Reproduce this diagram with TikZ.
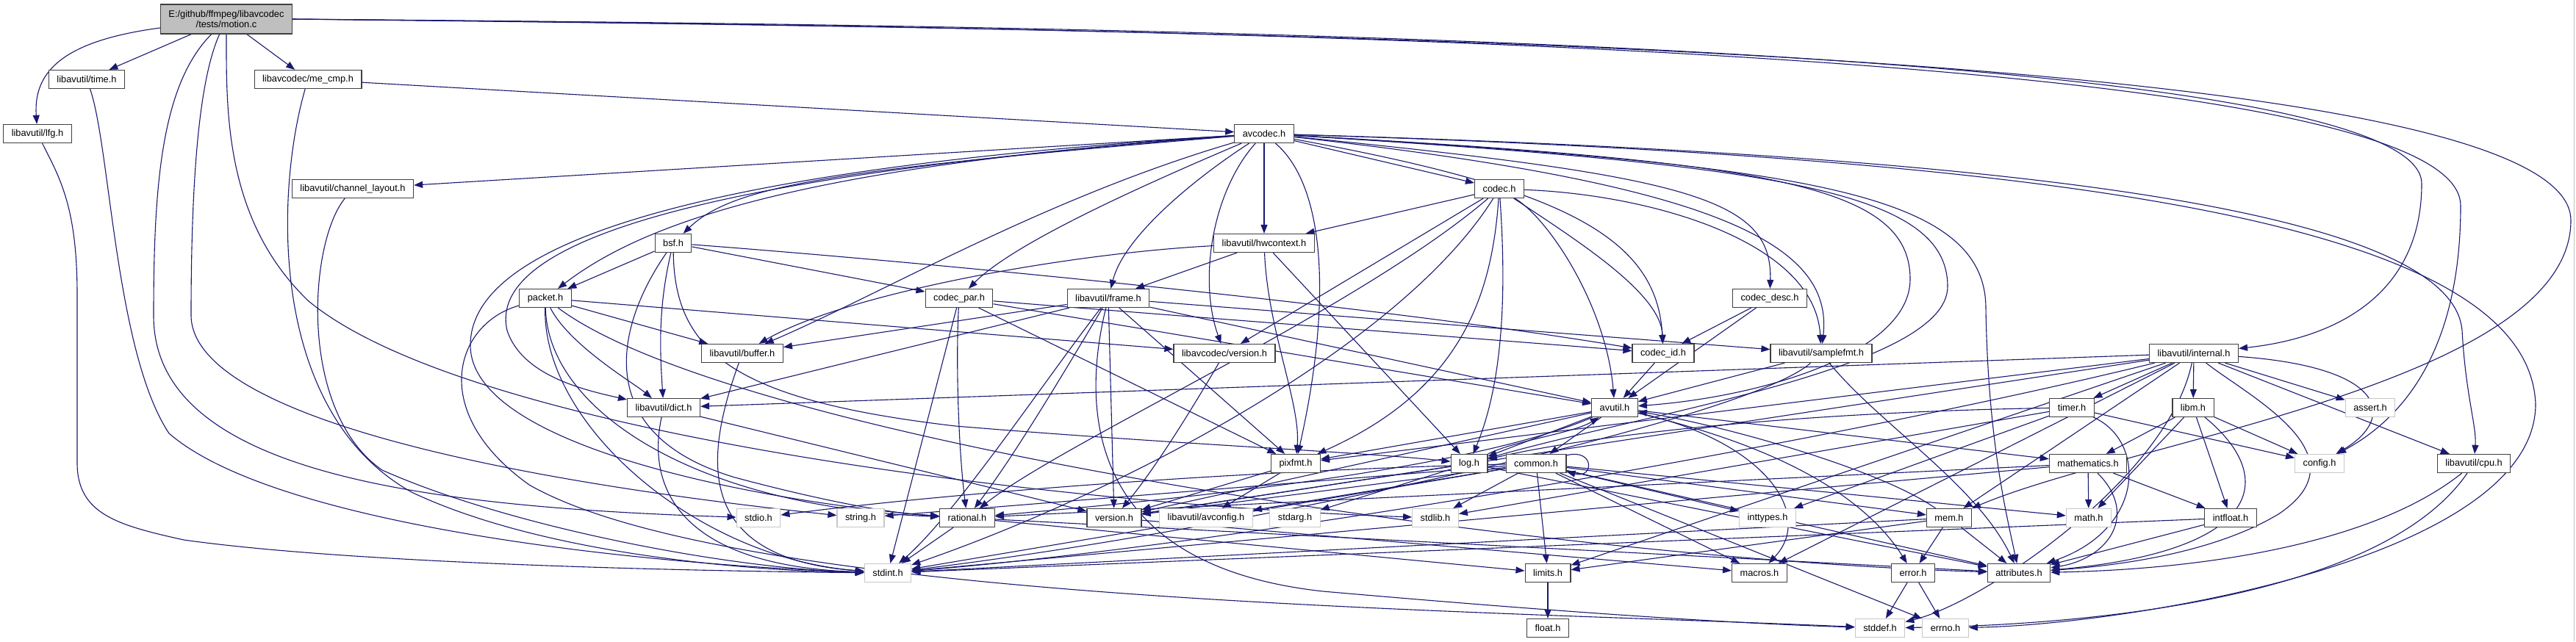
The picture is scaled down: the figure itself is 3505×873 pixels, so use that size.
\documentclass[tikz,border=0pt]{standalone}
\usepackage{fontspec}
\setmainfont{Liberation Sans}
\usetikzlibrary{arrows.meta}
\definecolor{edgeblue}{HTML}{191970}
\newcommand\hdrfont{\fontsize{12.8}{14}\selectfont}
\pgfdeclarelayer{bg}
\pgfsetlayers{bg,main}
\tikzset{
  hdr/.style={draw=black!75, fill=white, line width=1.2pt, minimum height=25pt, inner xsep=11pt, inner ysep=2pt, font=\hdrfont},
  sysh/.style={hdr, draw=black!22},
  srcfile/.style={hdr, fill=black!25, align=center, minimum height=40pt},
  dep/.style={edgeblue, line width=1.1pt, -{Triangle[length=12pt,width=9pt]}}
}
\begin{document}
\begin{tikzpicture}[x=1pt,y=-1pt]
\useasboundingbox (0,0) rectangle (3505,873);

\node[srcfile] (motion) at (308,26) {E:/github/ffmpeg/libavcodec\\/tests/motion.c};
\node[hdr] (timeh) at (118,108) {libavutil/time.h};
\node[hdr] (mecmp) at (419,108) {libavcodec/me\_cmp.h};
\node[hdr] (lfg) at (51,182) {libavutil/lfg.h};
\node[hdr] (avcodec) at (1720,182) {avcodec.h};
\node[hdr] (chlayout) at (480,257) {libavutil/channel\_layout.h};
\node[hdr] (codec) at (2040,257) {codec.h};
\node[hdr] (bsf) at (916,331) {bsf.h};
\node[hdr] (hwctx) at (1720,331) {libavutil/hwcontext.h};
\node[hdr] (packet) at (742,406) {packet.h};
\node[hdr] (codecpar) at (1305,406) {codec\_par.h};
\node[hdr] (frame) at (1508,406) {libavutil/frame.h};
\node[hdr] (codecdesc) at (2408,406) {codec\_desc.h};
\node[hdr] (buffer) at (1010,481) {libavutil/buffer.h};
\node[hdr] (lavcver) at (1666,481) {libavcodec/version.h};
\node[hdr] (codecid) at (2263,481) {codec\_id.h};
\node[hdr] (samplefmt) at (2478,481) {libavutil/samplefmt.h};
\node[hdr] (internal) at (2985,481) {libavutil/internal.h};
\node[hdr] (dict) at (903,555) {libavutil/dict.h};
\node[hdr] (avutil) at (2197,555) {avutil.h};
\node[hdr] (timer) at (2819,555) {timer.h};
\node[hdr] (libm) at (2984,555) {libm.h};
\node[sysh] (assert) at (3225,555) {assert.h};
\node[hdr] (pixfmt) at (1763,631) {pixfmt.h};
\node[hdr] (logh) at (1999,631) {log.h};
\node[hdr] (common) at (2090,631) {common.h};
\node[hdr] (mathematics) at (2841,631) {mathematics.h};
\node[sysh] (config) at (3156,631) {config.h};
\node[hdr] (cpu) at (3366,631) {libavutil/cpu.h};
\node[sysh] (stdio) at (1032,705) {stdio.h};
\node[sysh] (string) at (1171,705) {string.h};
\node[hdr] (rational) at (1316,705) {rational.h};
\node[hdr] (version) at (1516,705) {version.h};
\node[sysh] (avconfig) at (1641,705) {libavutil/avconfig.h};
\node[sysh] (stdarg) at (1762,705) {stdarg.h};
\node[sysh] (stdlib) at (1953,705) {stdlib.h};
\node[sysh] (inttypes) at (2405,705) {inttypes.h};
\node[hdr] (mem) at (2652,705) {mem.h};
\node[sysh] (math) at (2842,705) {math.h};
\node[hdr] (intfloat) at (3035,705) {intfloat.h};
\node[sysh] (stdint) at (1208,780) {stdint.h};
\node[hdr] (limits) at (2106,780) {limits.h};
\node[hdr] (macros) at (2394,780) {macros.h};
\node[hdr] (error) at (2603,780) {error.h};
\node[hdr] (attributes) at (2747,780) {attributes.h};
\node[hdr] (float) at (2106,855) {float.h};
\node[sysh] (stddef) at (2558,855) {stddef.h};
\node[sysh] (errno) at (2647,855) {errno.h};

\begin{pgfonlayer}{bg}
\fill[white] (0,0) rectangle (3505,873);
\draw[black!25, line width=1pt] (3502,0) -- (3502,873);

\draw[dep] (motion) .. controls (90,55) and (45,95) .. (lfg);
\draw[dep] (motion) -- (timeh);
\draw[dep] (motion) -- (mecmp);
\draw[dep] (motion) .. controls (220,115) and (209,250) .. (209,430) .. controls (209,640) and (560,690) .. (stdio);
\draw[dep] (motion) .. controls (270,110) and (260,250) .. (260,430) .. controls (262,560) and (650,650) .. (string);
\draw[dep] (motion) .. controls (308,150) and (305,300) .. (420,410) .. controls (650,600) and (1500,690) .. (stdlib);
\draw[dep] (motion.east) .. controls (1500,35) and (3295,55) .. (3295,250) .. controls (3295,400) and (3180,460) .. (internal);
\draw[dep] (motion.east) .. controls (1600,38) and (3348,60) .. (3348,280) .. controls (3348,500) and (3250,580) .. (config);
\draw[dep] (motion.east) .. controls (1700,41) and (3498,60) .. (3498,300) .. controls (3498,520) and (2900,600) .. (mem);

\draw[dep] (mecmp) -- (avcodec);
\draw[dep] (mecmp) .. controls (375,260) and (364,560) .. (560,670) .. controls (750,760) and (1050,778) .. (stdint);
\draw[dep] (timeh) .. controls (150,200) and (157,480) .. (230,590) .. controls (380,720) and (900,770) .. (stdint);
\draw[dep] (lfg) .. controls (80,240) and (105,280) .. (105,400) -- (105,630) .. controls (105,700) and (160,715) .. (250,735) .. controls (500,770) and (1000,778) .. (stdint);
\draw[dep] (chlayout) .. controls (420,330) and (405,560) .. (520,640) .. controls (700,720) and (1000,775) .. (stdint);

\draw[dep] (avcodec) -- (chlayout);
\draw[dep] (avcodec) .. controls (1100,225) and (880,300) .. (packet);
\draw[dep] (avcodec) .. controls (1150,230) and (1000,250) .. (bsf);
\draw[dep] (avcodec) .. controls (1000,235) and (660,320) .. (690,450) .. controls (710,510) and (790,530) .. (dict);
\draw[dep] (avcodec) .. controls (950,230) and (640,330) .. (640,470) .. controls (640,620) and (1100,690) .. (rational);
\draw[dep] (avcodec) .. controls (1420,270) and (1200,400) .. (buffer);
\draw[dep] (avcodec) .. controls (1560,250) and (1380,330) .. (codecpar);
\draw[dep] (avcodec) .. controls (1630,240) and (1530,320) .. (frame);
\draw[dep] (avcodec) -- (hwctx);
\draw[dep] (avcodec) .. controls (1650,260) and (1630,380) .. (lavcver);
\draw[dep] (avcodec) .. controls (1800,250) and (1815,400) .. (pixfmt);
\draw[dep] (avcodec) -- (codec);
\draw[dep] (avcodec) .. controls (2120,255) and (2255,320) .. (codecid);
\draw[dep] (avcodec) .. controls (2300,240) and (2412,270) .. (codecdesc);
\draw[dep] (avcodec) .. controls (2330,250) and (2495,330) .. (samplefmt);
\draw[dep] (avcodec) .. controls (2400,220) and (2599,250) .. (2599,380) .. controls (2599,480) and (2400,540) .. (avutil);
\draw[dep] (avcodec) .. controls (2420,225) and (2650,260) .. (2650,390) .. controls (2650,500) and (2250,560) .. (logh);
\draw[dep] (avcodec) .. controls (2450,225) and (2702,260) .. (2702,420) .. controls (2705,600) and (2730,700) .. (attributes);
\draw[dep] (avcodec) .. controls (2700,210) and (3336,280) .. (3350,450) .. controls (3355,540) and (3370,580) .. (cpu);
\draw[dep] (avcodec) .. controls (2800,215) and (3440,300) .. (3450,550) .. controls (3450,760) and (2900,850) .. (errno);

\draw[dep] (bsf) -- (packet);
\draw[dep] (bsf) -- (codecpar);
\draw[dep] (bsf) .. controls (1300,360) and (1900,420) .. (codecid);
\draw[dep] (bsf) .. controls (895,420) and (898,480) .. (dict);
\draw[dep] (bsf) .. controls (918,480) and (1000,545) .. (1300,580) .. controls (1600,605) and (1850,615) .. (logh);
\draw[dep] (bsf) .. controls (840,440) and (800,590) .. (1000,650) .. controls (1150,690) and (1230,700) .. (rational);

\draw[dep] (packet) -- (buffer);
\draw[dep] (packet) .. controls (775,470) and (860,520) .. (dict);
\draw[dep] (packet) -- (lavcver);
\draw[dep] (packet) .. controls (745,560) and (950,690) .. (rational);
\draw[dep] (packet) .. controls (738,580) and (950,760) .. (stdint);
\draw[dep] (packet) .. controls (620,440) and (580,560) .. (720,660) .. controls (1000,820) and (2000,830) .. (stddef);
\draw[dep] (packet) .. controls (1000,600) and (2100,760) .. (attributes);

\draw[dep] (codecpar) -- (stdint);
\draw[dep] (codecpar) .. controls (1300,500) and (1305,620) .. (rational);
\draw[dep] (codecpar) -- (avutil);
\draw[dep] (codecpar) -- (pixfmt);
\draw[dep] (codecpar) .. controls (1600,430) and (2000,460) .. (codecid);

\draw[dep] (frame) -- (buffer);
\draw[dep] (frame) -- (dict);
\draw[dep] (frame) .. controls (1440,520) and (1380,620) .. (rational);
\draw[dep] (frame) .. controls (1420,520) and (1300,700) .. (stdint);
\draw[dep] (frame) .. controls (1470,560) and (1480,770) .. (1800,805) .. controls (2200,840) and (2400,850) .. (stddef);
\draw[dep] (frame) -- (samplefmt);
\draw[dep] (frame) -- (pixfmt);
\draw[dep] (frame) -- (version);
\draw[dep] (frame) -- (avutil);

\draw[dep] (hwctx) -- (frame);
\draw[dep] (hwctx) .. controls (1450,345) and (1150,400) .. (buffer);
\draw[dep] (hwctx) .. controls (1725,450) and (1770,550) .. (pixfmt);
\draw[dep] (hwctx) -- (logh);

\draw[dep] (codec) -- (hwctx);
\draw[dep] (codec) -- (lavcver);
\draw[dep] (codec) .. controls (1850,420) and (1450,600) .. (rational);
\draw[dep] (codec) .. controls (2030,400) and (1990,530) .. (pixfmt);
\draw[dep] (codec) .. controls (2050,400) and (2045,520) .. (logh);
\draw[dep] (codec) .. controls (2110,300) and (2186,420) .. (avutil);
\draw[dep] (codec) .. controls (2250,265) and (2470,330) .. (samplefmt);
\draw[dep] (codec) .. controls (2150,330) and (2260,400) .. (codecid);
\draw[dep] (codec) .. controls (1900,480) and (1500,680) .. (stdint);

\draw[dep] (codecdesc) -- (codecid);
\draw[dep] (codecdesc) -- (avutil);
\draw[dep] (codecid) -- (avutil);
\draw[dep] (lavcver) .. controls (1620,560) and (1570,640) .. (version);

\draw[dep] (samplefmt) -- (avutil);
\draw[dep] (samplefmt) .. controls (2380,570) and (1700,720) .. (stdint);
\draw[dep] (samplefmt) .. controls (2560,580) and (2690,660) .. (attributes);

\draw[dep] (internal) -- (libm);
\draw[dep] (internal) -- (assert);
\draw[dep] (internal) .. controls (3250,500) and (3260,570) .. (config);
\draw[dep] (internal) -- (cpu);
\draw[dep] (internal) -- (timer);
\draw[dep] (internal) -- (dict);
\draw[dep] (internal) -- (mem);
\draw[dep] (internal) .. controls (3060,540) and (3220,620) .. (3100,700) .. controls (3000,760) and (2850,772) .. (attributes);
\draw[dep] (internal) -- (macros);
\draw[dep] (internal) -- (version);
\draw[dep] (internal) -- (pixfmt);
\draw[dep] (internal) -- (limits);
\draw[dep] (internal) .. controls (2500,600) and (1700,740) .. (stdint);
\draw[dep] (internal) .. controls (2950,650) and (2700,820) .. (stddef);

\draw[dep] (timer) -- (config);
\draw[dep] (timer) .. controls (2500,560) and (2200,585) .. (logh);
\draw[dep] (timer) -- (stdlib);
\draw[dep] (timer) -- (inttypes);
\draw[dep] (timer) .. controls (2920,600) and (2920,720) .. (attributes);

\draw[dep] (libm) -- (config);
\draw[dep] (libm) -- (intfloat);
\draw[dep] (libm) -- (mathematics);
\draw[dep] (libm) -- (math);
\draw[dep] (libm) .. controls (3100,650) and (3080,750) .. (attributes);

\draw[dep] (mathematics) -- (math);
\draw[dep] (mathematics) -- (rational);
\draw[dep] (mathematics) -- (stdint);
\draw[dep] (mathematics) -- (intfloat);
\draw[dep] (mathematics) .. controls (2910,700) and (2870,760) .. (attributes);

\draw[dep] (mem) -- (error);
\draw[dep] (mem) -- (attributes);
\draw[dep] (mem) -- (limits);
\draw[dep] (mem) -- (stdint);
\draw[dep] (mem) .. controls (2560,640) and (2350,580) .. (avutil);
\draw[dep] (error) -- (stddef);
\draw[dep] (error) -- (errno);

\draw[dep] (common.15) .. controls +(38,-10) and +(38,10) .. (common.-15);
\draw[dep] (common) -- (limits);
\draw[dep] (common) -- (stdlib);
\draw[dep] (common) -- (inttypes);
\draw[dep] (common) -- (math);
\draw[dep] (common) -- (macros);
\draw[dep] (common) -- (mem);
\draw[dep] (common) -- (errno);
\draw[dep] (common) -- (attributes);
\draw[dep] (common) -- (version);
\draw[dep] (common) -- (stdint);
\draw[dep] (common) .. controls (1700,640) and (1300,670) .. (stdio);
\draw[dep] (common) -- (string);
\draw[dep] (common) -- (avconfig);

\draw[dep] (avutil) -- (common);
\draw[dep] (avutil) -- (logh);
\draw[dep] (avutil) -- (pixfmt);
\draw[dep] (avutil) .. controls (2000,640) and (1600,680) .. (rational);
\draw[dep] (avutil) -- (version);
\draw[dep] (avutil) .. controls (2400,600) and (2470,700) .. (macros);
\draw[dep] (avutil) .. controls (2430,610) and (2540,680) .. (error);
\draw[dep] (avutil) -- (mathematics);

\draw[dep] (logh) .. controls (2060,600) and (2140,590) .. (avutil);
\draw[dep] (logh) -- (stdarg);
\draw[dep] (logh) -- (attributes);
\draw[dep] (logh) -- (version);

\draw[dep] (rational) -- (stdint);
\draw[dep] (rational) -- (limits);
\draw[dep] (rational) -- (attributes);
\draw[dep] (version) -- (macros);
\draw[dep] (pixfmt) -- (version);
\draw[dep] (pixfmt) -- (avconfig);
\draw[dep] (dict) .. controls (880,660) and (920,770) .. (stdint);
\draw[dep] (dict) -- (version);
\draw[dep] (buffer) .. controls (960,620) and (940,760) .. (stdint);
\draw[dep] (limits) -- (float);
\draw[dep] (intfloat) -- (stdint);
\draw[dep] (intfloat) -- (attributes);
\draw[dep] (cpu) .. controls (3230,740) and (3000,775) .. (attributes);
\draw[dep] (cpu) .. controls (3250,800) and (2900,850) .. (stddef);
\end{pgfonlayer}
\end{tikzpicture}
\end{document}
